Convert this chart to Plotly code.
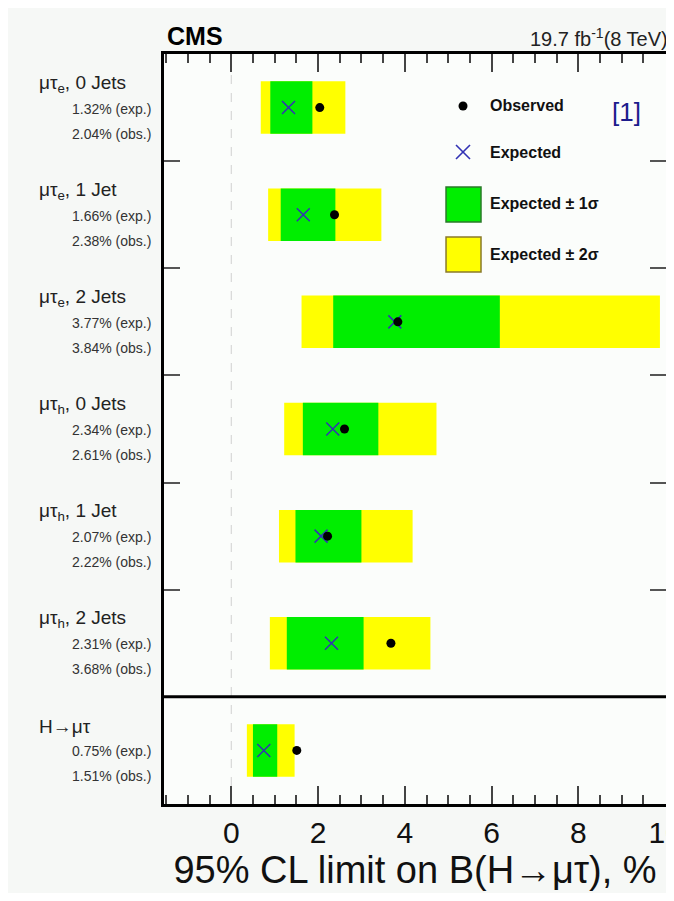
import plotly.graph_objects as go

# channels, top to bottom
titles = ["μτ<sub>e</sub>, 0 Jets", "μτ<sub>e</sub>, 1 Jet", "μτ<sub>e</sub>, 2 Jets",
          "μτ<sub>h</sub>, 0 Jets", "μτ<sub>h</sub>, 1 Jet", "μτ<sub>h</sub>, 2 Jets",
          "H→μτ"]
expected = [1.32, 1.66, 3.77, 2.34, 2.07, 2.31, 0.75]
observed = [2.04, 2.38, 3.84, 2.61, 2.22, 3.68, 1.51]
lo2 = [0.68, 0.85, 1.62, 1.22, 1.10, 0.89, 0.36]
lo1 = [0.90, 1.14, 2.35, 1.65, 1.48, 1.28, 0.50]
hi1 = [1.87, 2.40, 6.19, 3.39, 3.00, 3.05, 1.06]
hi2 = [2.63, 3.46, 9.88, 4.73, 4.18, 4.59, 1.46]

rows = list(range(len(titles)))
FONT = "Liberation Sans"
YEL = "#ffff00"
GRN = "#00ee00"
XCOL = "#3232b4"

fig = go.Figure()
fig.add_trace(go.Bar(y=rows, x=[h - l for l, h in zip(lo2, hi2)], base=lo2, orientation="h",
                     width=0.49, marker=dict(color=YEL, line_width=0), showlegend=False))
fig.add_trace(go.Bar(y=rows, x=[h - l for l, h in zip(lo1, hi1)], base=lo1, orientation="h",
                     width=0.49, marker=dict(color=GRN, line_width=0), showlegend=False))
fig.add_trace(go.Scatter(y=rows, x=expected, mode="markers", showlegend=False,
                         marker=dict(symbol="x-thin", size=13, line=dict(width=1.5, color=XCOL))))
fig.add_trace(go.Scatter(y=rows, x=observed, mode="markers", showlegend=False,
                         marker=dict(symbol="circle", size=9, color="black")))

shapes = [
    dict(type="line", xref="x", yref="paper", x0=0, x1=0, y0=0, y1=1,
         line=dict(color="#d0d0d0", width=1, dash="dash"), layer="below"),
    dict(type="line", xref="paper", yref="y", x0=0, x1=1, y0=5.5, y1=5.5,
         line=dict(color="black", width=3)),
]

# channel labels at the left
ann = []
for i, t in enumerate(titles):
    ann.append(dict(x=-0.253, xref="paper", y=i, yref="y", yshift=24, text=t, showarrow=False,
                    xanchor="left", yanchor="middle", font=dict(family=FONT, size=19, color="#222")))
    ann.append(dict(x=-0.022, xref="paper", y=i, yref="y", yshift=-1, text=f"{expected[i]:.2f}% (exp.)",
                    showarrow=False, xanchor="right", yanchor="middle",
                    font=dict(family=FONT, size=14, color="#333")))
    ann.append(dict(x=-0.022, xref="paper", y=i, yref="y", yshift=-26, text=f"{observed[i]:.2f}% (obs.)",
                    showarrow=False, xanchor="right", yanchor="middle",
                    font=dict(family=FONT, size=14, color="#333")))

# header
ann.append(dict(x=0.002, xref="paper", y=1.0, yref="paper", yshift=2, text="<b>CMS</b>", showarrow=False,
                xanchor="left", yanchor="bottom", font=dict(family=FONT, size=25, color="black")))
ann.append(dict(x=1.008, xref="paper", y=1.0, yref="paper", yshift=2, text="19.7 fb<sup>-1</sup>(8 TeV)",
                showarrow=False, xanchor="right", yanchor="bottom", font=dict(family=FONT, size=20, color="#222")))

# legend
shapes.append(dict(type="circle", xref="paper", yref="paper", x0=0.5867, x1=0.6046, y0=0.9247, y1=0.9367,
                   fillcolor="black", line=dict(color="black", width=0)))
shapes.append(dict(type="line", xref="paper", yref="paper", x0=0.5817, x1=0.6096, y0=0.8787, y1=0.860,
                   line=dict(color=XCOL, width=1.6)))
shapes.append(dict(type="line", xref="paper", yref="paper", x0=0.5817, x1=0.6096, y0=0.860, y1=0.8787,
                   line=dict(color=XCOL, width=1.6)))
leg_text = [("Observed", 0.9307), ("Expected", 0.8693), ("Expected ± 1σ", 0.800), ("Expected ± 2σ", 0.7333)]
for txt, yp in leg_text:
    ann.append(dict(x=0.6454, xref="paper", y=yp, yref="paper", text=f"<b>{txt}</b>", showarrow=False,
                    xanchor="left", yanchor="middle", font=dict(family=FONT, size=16, color="#111")))
shapes.append(dict(type="rect", xref="paper", yref="paper", x0=0.5618, x1=0.6315, y0=0.776, y1=0.8227,
                   fillcolor=GRN, line=dict(color="#2a7a2a", width=1.5)))
shapes.append(dict(type="rect", xref="paper", yref="paper", x0=0.5618, x1=0.6315, y0=0.7093, y1=0.756,
                   fillcolor=YEL, line=dict(color="#8a7a2a", width=1.5)))
ann.append(dict(x=0.922, xref="paper", y=0.923, yref="paper", text="[1]", showarrow=False,
                xanchor="center", yanchor="middle", font=dict(family=FONT, size=26, color="#1c1c8c")))

# the page body adds an 8px margin, so the figure is a bit smaller than the window
fig.update_layout(
    width=666, height=885,
    margin=dict(l=156, r=8, t=46, b=89, autoexpand=False),
    paper_bgcolor="#f6f8f6", plot_bgcolor="#fbfdfb",
    barmode="overlay", showlegend=False,
    shapes=shapes, annotations=ann,
    font=dict(family=FONT, color="#111"),
)
fig.update_xaxes(range=[-1.55, 10.02], showgrid=False, zeroline=False, automargin=False,
                 showline=True, linewidth=3, linecolor="black", mirror="ticks",
                 ticks="inside", tickvals=[0, 2, 4, 6, 8, 10], ticklen=18, tickwidth=1.5, tickcolor="#444",
                 ticklabeloverflow="allow",
                 minor=dict(dtick=0.5, tick0=0, ticks="inside", ticklen=9, tickwidth=1.5, tickcolor="#444"),
                 tickfont=dict(family=FONT, size=30, color="#111"),
                 title=dict(text="95% CL limit on B(H→μτ), %", font=dict(family=FONT, size=38, color="#111"),
                            standoff=2))
fig.update_yaxes(range=[6.5, -0.5], showgrid=False, zeroline=False, automargin=False,
                 showline=True, linewidth=3, linecolor="black", mirror="ticks",
                 ticks="inside", tickvals=[0.5, 1.5, 2.5, 3.5, 4.5], ticklen=16, tickwidth=1.5,
                 tickcolor="#555", showticklabels=False)

fig.write_html("out.html")
